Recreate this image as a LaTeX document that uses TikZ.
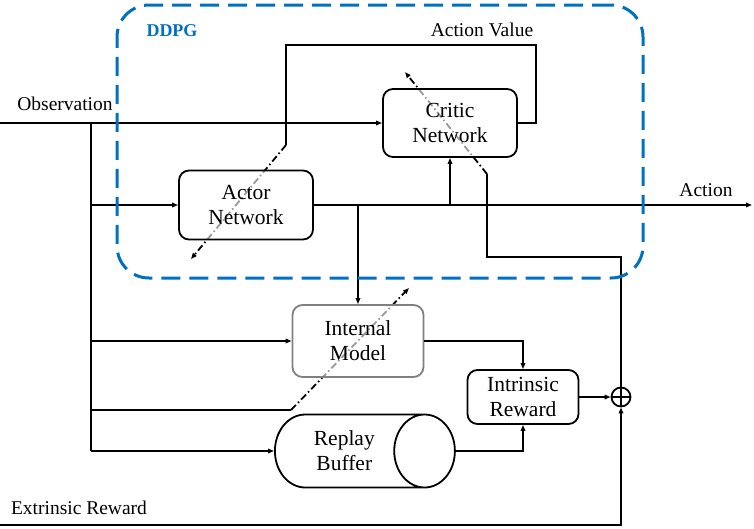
\documentclass[tikz,border=0pt]{standalone}
\usepackage{fontspec}
\setmainfont{Liberation Serif}
\usetikzlibrary{arrows.meta,shapes.geometric,backgrounds}
\definecolor{ddpgblue}{RGB}{0,112,192}

\begin{document}
\begin{tikzpicture}[x=1pt,y=-1pt,
    >={Triangle[length=6pt,width=4.5pt]},
    box/.style={draw,rounded corners=10pt,line width=1.8pt,fill=white,
        fill opacity=0.6,text opacity=1,align=center,inner sep=2pt,
        font=\rmfamily\fontsize{21.5}{25}\selectfont},
    lbl/.style={font=\rmfamily\fontsize{19.5}{23}\selectfont},
    dashdot/.style={line width=1.8pt,dash pattern=on 7pt off 3pt on 1.5pt off 3pt}]
\useasboundingbox (0,0) rectangle (754,528);

\begin{scope}[every node/.style={box}]
    \node (critic) at (450,123) [minimum width=134pt,minimum height=68pt] {Critic\\Network};
    \node (actor) at (246,205) [minimum width=134pt,minimum height=69pt] {Actor\\Network};
    \node (internal) at (358,341) [draw=gray,minimum width=131pt,minimum height=72pt] {Internal\\Model};
    \node (intrinsic) at (523,397) [minimum width=111pt,minimum height=54pt] {Intrinsic\\Reward};
    \node (replay) at (274,451) [anchor=west,cylinder,rounded corners=0pt,shape aspect=1.375,
        minimum height=180pt,minimum width=73pt] {Replay\\Buffer};
\end{scope}
\node (sum) at (621,397) [circle,draw,line width=1.8pt,minimum size=19pt,inner sep=0pt] {};

\node[lbl] (obslbl) at (65,104) {Observation};
\node[lbl] (avlbl) at (482,30) {Action Value};
\node[lbl] (actlbl) at (706,190) {Action};
\node[lbl] (extlbl) at (79,508) {Extrinsic Reward};

\coordinate (obsin) at (0,123);
\coordinate (obssplit) at (91,123);
\coordinate (bufin) at (91,451);
\coordinate (mdlknee) at (291,410);
\coordinate (mdltip) at (409,288);
\coordinate (actout) at (752,205);
\coordinate (avtop) at (536,45);
\coordinate (valknee) at (286,145);
\coordinate (acttip) at (191,259);
\coordinate (critknee) at (487,174);
\coordinate (crittip) at (405,72);
\coordinate (tdturn) at (621,257);
\coordinate (extin) at (0,525);

\begin{scope}[line width=1.8pt]
    \draw (sum.north) -- (sum.south) (sum.west) -- (sum.east);
    \draw[->] (obsin) -- (critic.west);
    \draw (obssplit) -- (bufin);
    \draw[->] (obssplit |- actor.west) -- (actor.west);
    \draw[->] (obssplit |- internal.west) -- (internal.west);
    \draw[->] (bufin) -- (replay.west);
    \draw (obssplit |- mdlknee) -- (mdlknee);
    \draw[->] (actor.east) -- (actout);
    \draw[->] (internal.north |- actor.east) -- (internal.north);
    \draw[->] (critic.south |- actor.east) -- (critic.south);
    \draw (critic.east) -| (avtop) -| (valknee);
    \draw (critknee) |- (tdturn) -- (sum.north);
    \draw[->] (internal.east) -| (intrinsic.north);
    \draw[->] (replay.east) -| (intrinsic.south);
    \draw[->] (intrinsic.east) -- (sum.west);
    \draw[->] (extin) -| (sum.south);
\end{scope}

% dash-dot links sit behind the boxes
\begin{scope}[on background layer]
    \draw[dashdot,->] (mdlknee) -- (mdltip);
    \draw[dashdot,->] (valknee) -- (acttip);
    \draw[dashdot,->] (critknee) -- (crittip);
\end{scope}

\node (ddpg) at (380,141.5) [draw=ddpgblue,line width=3pt,rounded corners=32pt,
    dash pattern=on 19pt off 9pt,minimum width=526pt,minimum height=273pt] {};
\node (ddpglbl) at (172,31) [text=ddpgblue,font=\rmfamily\bfseries\fontsize{18}{21}\selectfont] {DDPG};
\end{tikzpicture}
\end{document}
